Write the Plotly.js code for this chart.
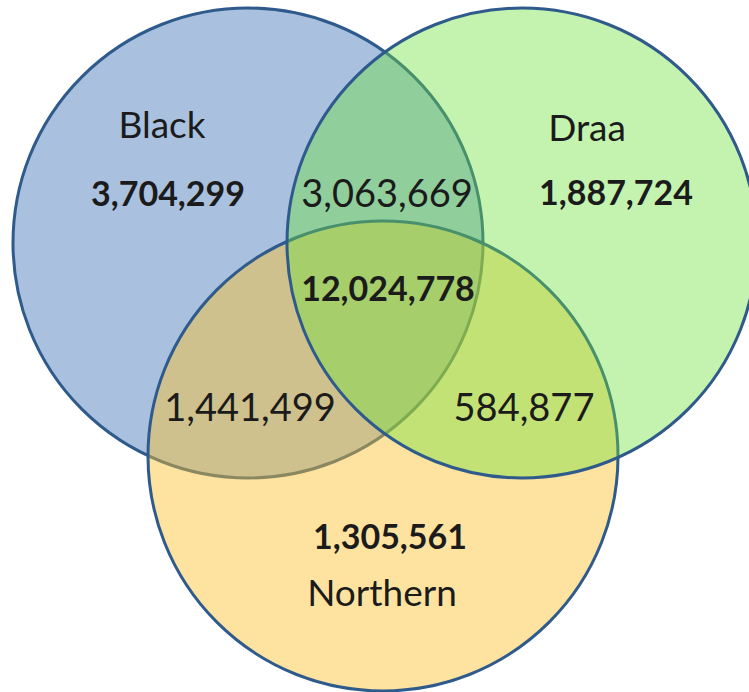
<!DOCTYPE html>
<html>
<head>
<meta charset="utf-8">
<script src="https://cdn.plot.ly/plotly-3.0.1.min.js"></script>
<style>html,body{margin:0;padding:0;background:#fff;}#chart{width:749px;height:692px;}</style>
</head>
<body>
<div id="chart"></div>
<script>
// ---- data ----
const setNames = ['Black', 'Draa', 'Northern'];
const uniqueCounts = [3704299, 1887724, 1305561];          // Black only, Draa only, Northern only
const pairNames = ['Black ∩ Draa', 'Black ∩ Northern', 'Draa ∩ Northern'];
const pairCounts = [3063669, 1441499, 584877];
const allThreeCount = 12024778;

// ---- layout geometry (pixel-like coordinates) ----
const circleCx = [248, 522, 383];
const circleCy = [243, 243, 456];
const circleR = [235, 235, 235];
const circleFill = ['rgb(169,193,222)', 'rgba(107,225,57,0.40)', 'rgba(251,193,42,0.45)'];
const drawOrder = [0, 2, 1]; // Black, Northern, Draa on top
const setLabelX = [162, 587, 382];
const setLabelY = [129, 132, 597];
const uniqueX = [168, 616, 390];
const uniqueY = [197, 196, 540];
const pairX = [387, 250, 524];
const pairY = [197, 411, 411];
const tripleX = 388, tripleY = 292;

const fmt = v => v.toLocaleString('en-US');
const fontFam = 'Lato, "Open Sans", sans-serif';
const textCol = '#1b1b1b';

const shapes = drawOrder.map(i => ({
  type: 'circle', xref: 'x', yref: 'y',
  x0: circleCx[i] - circleR[i], x1: circleCx[i] + circleR[i],
  y0: circleCy[i] - circleR[i], y1: circleCy[i] + circleR[i],
  fillcolor: circleFill[i],
  line: {color: '#2f5a8c', width: 3},
  layer: 'below'
}));

const traces = [
  {
    type: 'scatter', mode: 'text', x: setLabelX, y: setLabelY, text: setNames,
    textfont: {family: fontFam, size: 37, color: textCol}, hoverinfo: 'skip', showlegend: false
  },
  {
    type: 'scatter', mode: 'text', x: uniqueX.concat([tripleX]), y: uniqueY.concat([tripleY]),
    text: uniqueCounts.concat([allThreeCount]).map(fmt),
    textfont: {family: fontFam, size: 34, color: textCol, weight: 'bold'}, hoverinfo: 'skip', showlegend: false
  },
  {
    type: 'scatter', mode: 'text', x: pairX, y: pairY, text: pairCounts.map(fmt),
    customdata: pairNames,
    textfont: {family: fontFam, size: 38, color: textCol}, hoverinfo: 'skip', showlegend: false
  }
];

const layout = {
  width: 749, height: 692,
  margin: {l: 0, r: 0, t: 0, b: 0},
  paper_bgcolor: '#ffffff', plot_bgcolor: '#ffffff',
  xaxis: {range: [0, 749], visible: false, fixedrange: true},
  yaxis: {range: [692, 0], visible: false, fixedrange: true},
  shapes: shapes,
  showlegend: false
};

Plotly.newPlot('chart', traces, layout, {displayModeBar: false, staticPlot: true});
</script>
</body>
</html>
